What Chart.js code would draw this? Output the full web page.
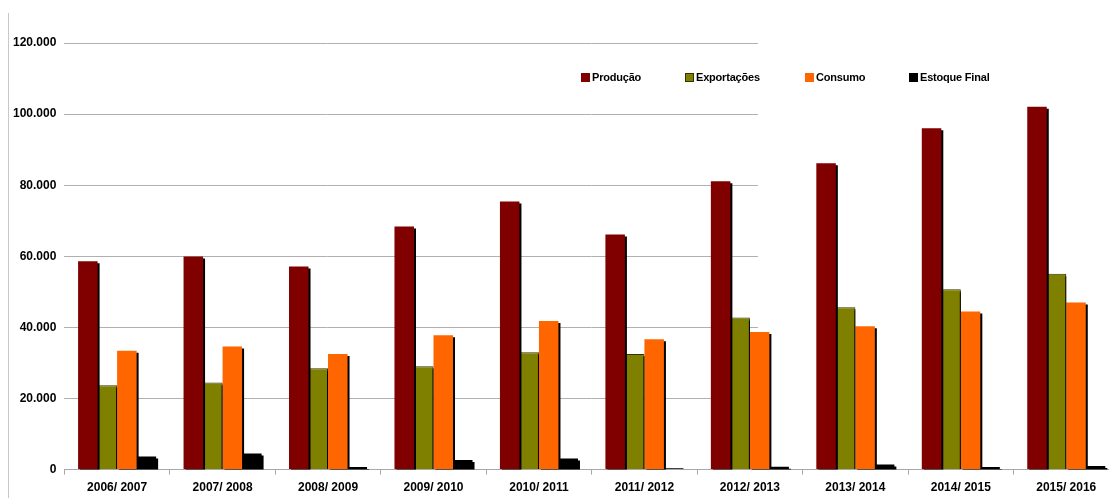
<!DOCTYPE html>
<html lang="pt">
<head>
    <meta charset="UTF-8">
    <title>Produção, Exportações, Consumo e Estoque Final</title>
    <script src="https://cdn.jsdelivr.net/npm/chart.js"></script>
    <style>
        * {
            margin: 0;
            padding: 0;
            box-sizing: border-box;
        }

        body {
            background: #ffffff;
            width: 1109px;
            height: 498px;
            overflow: hidden;
            font-family: 'Liberation Sans', Arial, sans-serif;
        }

        .chart-wrap {
            position: relative;
            width: 1119px;
            height: 501px;
        }

        .left-rule {
            position: absolute;
            left: 8px;
            top: 13px;
            bottom: 0;
            border-left: 1px solid #c8c8c8;
        }

        .legend {
            position: absolute;
            top: 71px;
            left: 0;
            width: 100%;
            font-size: 11px;
            font-weight: bold;
            color: #000;
        }

        .legend-item {
            position: absolute;
            display: flex;
            align-items: center;
            gap: 2px;
            letter-spacing: -0.2px;
        }

        .legend-box {
            width: 9px;
            height: 9px;
            display: inline-block;
        }
    </style>
</head>
<body>
    <div class="chart-wrap">
        <canvas id="safraChart"></canvas>
        <div class="left-rule"></div>
        <div class="legend">
            <div class="legend-item" style="left:581px"><span class="legend-box" style="background:#800000"></span>Produção</div>
            <div class="legend-item" style="left:685px"><span class="legend-box" style="background:#808000;border:1px solid #333300"></span>Exportações</div>
            <div class="legend-item" style="left:805px"><span class="legend-box" style="background:#ff6600"></span>Consumo</div>
            <div class="legend-item" style="left:909px"><span class="legend-box" style="background:#000000"></span>Estoque Final</div>
        </div>
    </div>

    <script>
        // dados (mil toneladas)
        const safras = ['2006/ 2007', '2007/ 2008', '2008/ 2009', '2009/ 2010', '2010/ 2011',
                        '2011/ 2012', '2012/ 2013', '2013/ 2014', '2014/ 2015', '2015/ 2016'];
        const producao     = [58600, 59950, 57100, 68400, 75400, 66100, 81100, 86200, 96000, 102100];
        const exportacoes  = [23700, 24500, 28500, 29100, 33000, 32500, 42800, 45700, 50700, 55100];
        const consumo      = [33400, 34600, 32500, 37800, 41800, 36700, 38700, 40300, 44500, 47000];
        const estoqueFinal = [3700, 4500, 700, 2700, 3100, 400, 800, 1400, 700, 1000];
        const yTicks = [0, 20000, 40000, 60000, 80000, 100000, 120000];

        const fmt = v => String(v).replace(/\B(?=(\d{3})+(?!\d))/g, '.');

        // gridlines only reach part way across, and bars get a hard black shadow
        const chartLook = {
            id: 'chartLook',
            beforeDatasetsDraw(chart) {
                const { ctx, chartArea, scales } = chart;
                const base = scales.y.getPixelForValue(0);
                ctx.save();
                ctx.fillStyle = '#ffffff';
                ctx.fillRect(758, chartArea.top - 3, chartArea.right - 758 + 2, base - 1 - (chartArea.top - 3));
                ctx.restore();

                ctx.save();
                ctx.shadowColor = '#000000';
                ctx.shadowOffsetX = 2;
                ctx.shadowOffsetY = 2;
                ctx.shadowBlur = 0;
            },
            afterDatasetsDraw(chart) {
                chart.ctx.restore();
            }
        };

        new Chart(document.getElementById('safraChart'), {
            type: 'bar',
            data: {
                labels: safras,
                datasets: [
                    { label: 'Produção', data: producao, backgroundColor: '#800000', borderWidth: 0 },
                    { label: 'Exportações', data: exportacoes, backgroundColor: '#808000', borderColor: '#333300', borderWidth: 1 },
                    { label: 'Consumo', data: consumo, backgroundColor: '#ff6600', borderWidth: 0 },
                    { label: 'Estoque Final', data: estoqueFinal, backgroundColor: '#000000', borderWidth: 0 }
                ]
            },
            options: {
                responsive: true,
                maintainAspectRatio: false,
                animation: false,
                layout: {
                    padding: { top: 43, left: 5, right: 0, bottom: 0 }
                },
                categoryPercentage: 0.74,
                barPercentage: 1.0,
                plugins: {
                    legend: { display: false },
                    tooltip: { enabled: false }
                },
                scales: {
                    x: {
                        grid: {
                            offset: true,
                            drawOnChartArea: false,
                            drawTicks: true,
                            tickLength: 5,
                            color: '#a8a8a8'
                        },
                        border: { color: '#a8a8a8', width: 1 },
                        ticks: {
                            color: '#000',
                            padding: 6,
                            maxRotation: 0,
                            font: { family: "'Liberation Sans', Arial, sans-serif", size: 12, weight: 'bold' }
                        }
                    },
                    y: {
                        min: 0,
                        max: 120000,
                        afterBuildTicks(scale) {
                            scale.ticks = yTicks.map(v => ({ value: v }));
                        },
                        grid: {
                            drawTicks: false,
                            color: '#b0b0b0',
                            lineWidth: 1
                        },
                        border: { display: false },
                        ticks: {
                            color: '#000',
                            padding: 8,
                            callback: v => fmt(v),
                            font: { family: "'Liberation Sans', Arial, sans-serif", size: 12, weight: 'bold' }
                        }
                    }
                }
            },
            plugins: [chartLook]
        });
    </script>
</body>
</html>
